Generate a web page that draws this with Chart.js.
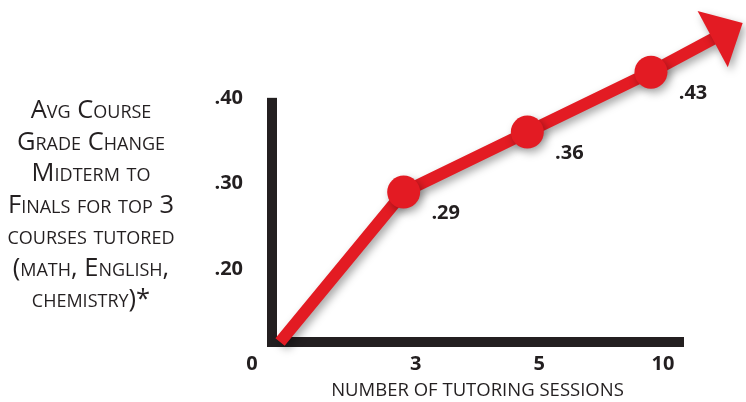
<!DOCTYPE html>
<html>
<head>
<meta charset="utf-8">
<script src="https://cdn.jsdelivr.net/npm/chart.js@4/dist/chart.umd.min.js"></script>
<style>
  html, body { margin: 0; padding: 0; background: #ffffff; }
  #wrap { position: relative; width: 746px; height: 402px; }
  #c { position: absolute; left: 0; top: 0; }
  #ytitle {
    position: absolute; left: 0; top: 93px; width: 182px;
    text-align: center; font-family: 'Open Sans', sans-serif;
    font-size: 25.5px; line-height: 31.5px; font-variant: small-caps;
    color: #231f20; white-space: nowrap;
  }
</style>
</head>
<body>
<div id="wrap">
  <canvas id="c" width="746" height="402"></canvas>
  <div id="ytitle"></div>
</div>
<script>
// ---- data ----
const sessions = [0, 3, 5, 10];
const gradeChange = [0, 0.29, 0.36, 0.43];
const yTickValues = [0.20, 0.30, 0.40];
const yTitleLines = ['Avg Course', 'Grade Change', 'Midterm to', 'Finals for top 3', 'courses tutored', '(math, English,', 'chemistry)*'];
const xTitle = 'NUMBER OF TUTORING SESSIONS';

document.getElementById('ytitle').innerHTML = yTitleLines.map(s => s.replace(/&/g, '&amp;')).join('<br>');

const RED = '#e31b23';
const INK = '#231f20';
const FONT = "'Open Sans', sans-serif";
const Y_AXIS_TOP = 0.40;

// Broken linear axis: values below the axis break collapse onto the origin
class BrokenLinearScale extends Chart.LinearScale {
  getPixelForValue(value) {
    return super.getPixelForValue(Math.max(value, this.min));
  }
}
BrokenLinearScale.id = 'brokenLinear';
BrokenLinearScale.defaults = Object.assign({}, Chart.LinearScale.defaults);

// Ordinal session axis; the origin label sits left of the corner
class SessionScale extends Chart.LinearScale {
  _computeLabelItems(area) {
    const items = super._computeLabelItems(area);
    items.forEach((it, i) => {
      it.options.translation[0] += (i === 0 ? -28 : 12);
    });
    return items;
  }
}
SessionScale.id = 'sessionIndex';
SessionScale.defaults = Object.assign({}, Chart.LinearScale.defaults);

Chart.register(BrokenLinearScale, SessionScale);

const fmt = v => v.toFixed(2).replace(/^0/, '');

const decorPlugin = {
  id: 'decor',
  beforeDatasetsDraw(chart) {
    const ctx = chart.ctx;
    const ys = chart.scales.y, area = chart.chartArea;
    // vertical axis bar (stops at the top tick)
    const topPx = ys.getPixelForValue(Y_AXIS_TOP);
    ctx.save();
    ctx.fillStyle = INK;
    ctx.fillRect(area.left - 5, topPx, 10, area.bottom + 5 - topPx);
    ctx.restore();

    ctx.save();
    ctx.shadowColor = 'rgba(0,0,0,0.35)';
    ctx.shadowBlur = 8;
    ctx.shadowOffsetX = 3;
    ctx.shadowOffsetY = 4;
    // arrow extending the trend beyond the last point
    const pts = chart.getDatasetMeta(0).data;
    const p = pts[pts.length - 1], q = pts[pts.length - 2];
    let dx = p.x - q.x, dy = p.y - q.y;
    const len = Math.hypot(dx, dy);
    dx /= len; dy /= len;
    const tilt = -0.04;
    const ux = dx * Math.cos(tilt) - dy * Math.sin(tilt);
    const uy = dx * Math.sin(tilt) + dy * Math.cos(tilt);
    const shaft = 70, head = 34, half = 32;
    const bx = p.x + ux * shaft, by = p.y + uy * shaft;
    ctx.strokeStyle = RED;
    ctx.lineWidth = 12;
    ctx.lineCap = 'butt';
    ctx.beginPath();
    ctx.moveTo(p.x, p.y);
    ctx.lineTo(bx + ux * 2, by + uy * 2);
    ctx.stroke();
    ctx.fillStyle = RED;
    ctx.beginPath();
    ctx.moveTo(bx + ux * head, by + uy * head);
    ctx.lineTo(bx - uy * half, by + ux * half);
    ctx.lineTo(bx + uy * half, by - ux * half);
    ctx.closePath();
    ctx.fill();
  },
  afterDatasetsDraw(chart) {
    const ctx = chart.ctx;
    ctx.restore();
    const meta = chart.getDatasetMeta(0);
    ctx.save();
    ctx.font = "bold 20px " + FONT;
    ctx.fillStyle = INK;
    ctx.textAlign = 'center';
    ctx.textBaseline = 'middle';
    meta.data.forEach((pt, i) => {
      if (i === 0) return;
      ctx.fillText(fmt(gradeChange[i]), pt.x + 42, pt.y + 21);
    });
    ctx.restore();
  }
};

new Chart(document.getElementById('c'), {
  type: 'line',
  data: {
    datasets: [{
      data: sessions.map((s, i) => ({ x: i, y: gradeChange[i] })),
      borderColor: RED,
      backgroundColor: RED,
      borderWidth: 12,
      pointRadius: ctx => ctx.dataIndex === 0 ? 0 : 16.5,
      pointBackgroundColor: RED,
      pointBorderWidth: 0,
      borderJoinStyle: 'round',
      borderCapStyle: 'butt',
      tension: 0,
      clip: false
    }]
  },
  options: {
    responsive: false,
    animation: false,
    events: [],
    layout: { padding: { top: 55, right: 63, bottom: 0, left: 0 } },
    plugins: { legend: { display: false }, title: { display: false }, tooltip: { enabled: false } },
    scales: {
      x: {
        type: 'sessionIndex',
        min: -0.065,
        max: 3.259,
        afterBuildTicks: s => { s.ticks = sessions.map((_, i) => ({ value: i })); },
        afterFit: s => { s.height = 60; },
        grid: { display: false, drawTicks: false },
        border: { display: true, width: 10, color: INK },
        ticks: {
          callback: v => String(sessions[v]),
          font: { family: FONT, size: 20, weight: 'bold' },
          color: INK,
          padding: 10,
          maxRotation: 0,
          autoSkip: false
        },
        title: {
          display: true,
          text: xTitle,
          font: { family: FONT, size: 18.5 },
          color: INK,
          padding: { top: 0, bottom: 0 }
        }
      },
      y: {
        type: 'brokenLinear',
        min: 0.115,
        max: 0.45,
        afterBuildTicks: s => { s.ticks = yTickValues.map(v => ({ value: v })); },
        afterFit: s => { s.width = 272; },
        grid: { display: false, drawTicks: false },
        border: { display: false },
        ticks: {
          callback: v => fmt(v),
          font: { family: FONT, size: 20, weight: 'bold' },
          color: INK,
          padding: 29,
          autoSkip: false
        }
      }
    }
  },
  plugins: [decorPlugin]
});
</script>
</body>
</html>
